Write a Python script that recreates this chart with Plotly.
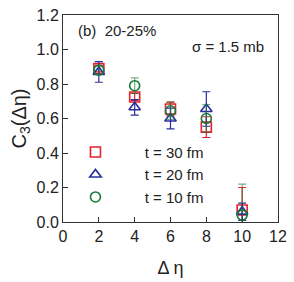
import plotly.graph_objects as go

deta = [2, 4, 6, 8, 10]
c3_t30 = [0.89, 0.725, 0.655, 0.55, 0.07]
err_t30 = [0.02, 0.02, 0.04, 0.06, 0.13]
c3_t20 = [0.87, 0.665, 0.60, 0.655, 0.06]
err_t20 = [0.06, 0.045, 0.06, 0.10, 0.05]
c3_t10 = [0.88, 0.79, 0.645, 0.60, 0.04]
err_t10 = [0.025, 0.045, 0.05, 0.08, 0.18]

labels = ["t = 30 fm", "t = 20 fm", "t = 10 fm"]
red = "#e8202a"
blue = "#2b2e9a"
green = "#177a3a"

fig = go.Figure()
series = [
    (c3_t30, err_t30, "square-open", red, red, labels[0]),
    (c3_t20, err_t20, "triangle-up-open", blue, blue, labels[1]),
    (c3_t10, err_t10, "circle-open", green, "rgba(23,122,58,0.6)", labels[2]),
]
pad = "\u00a0" * 7
for ys, es, sym, col, ecol, name in series:
    fig.add_trace(go.Scatter(
        x=deta, y=ys, mode="markers", name=pad + name,
        marker=dict(symbol=sym, size=10, color=col, line=dict(width=1.6, color=col)),
        error_y=dict(type="data", array=es, visible=True, color=ecol, thickness=1.2, width=4),
    ))

fig.update_layout(
    width=294, height=282,
    margin=dict(l=63, r=10, t=7, b=56),
    paper_bgcolor="white", plot_bgcolor="white",
    font=dict(family="Liberation Sans, Arial, sans-serif", size=16, color="#222"),
    showlegend=True,
    legend=dict(x=0.058, y=0.417, xanchor="left", yanchor="top",
                bgcolor="rgba(0,0,0,0)", font=dict(size=15), itemwidth=30,
                tracegroupgap=0),
    xaxis=dict(range=[0, 12], tickvals=[0, 2, 4, 6, 8, 10, 12], ticks="inside", ticklen=5,
               showline=True, linecolor="#333", linewidth=1, mirror=True, showgrid=False,
               zeroline=False, tickcolor="#333", ticklabeloverflow="allow",
               title=dict(text="Δ η", font=dict(size=18), standoff=17)),
    yaxis=dict(range=[0, 1.2], tickvals=[0, 0.2, 0.4, 0.6, 0.8, 1.0, 1.2], tickformat=".1f",
               ticks="inside", ticklen=5, ticklabeloverflow="allow",
               showline=True, linecolor="#333", linewidth=1, mirror=True, showgrid=False,
               zeroline=False, tickcolor="#333",
               title=dict(text="C<sub>3</sub>(Δη)", font=dict(size=20), standoff=4)),
    annotations=[
        dict(text="(b)\u00a0\u00a020-25%", x=0.06, y=0.925, xref="paper", yref="paper",
             xanchor="left", yanchor="middle", showarrow=False, font=dict(size=15)),
        dict(text="σ = 1.5 mb", x=0.946, y=0.849, xref="paper", yref="paper",
             xanchor="right", yanchor="middle", showarrow=False, font=dict(size=15)),
    ],
)

fig.write_html("out.html", config={"displayModeBar": False},
               post_script="document.body.style.margin='0';")
